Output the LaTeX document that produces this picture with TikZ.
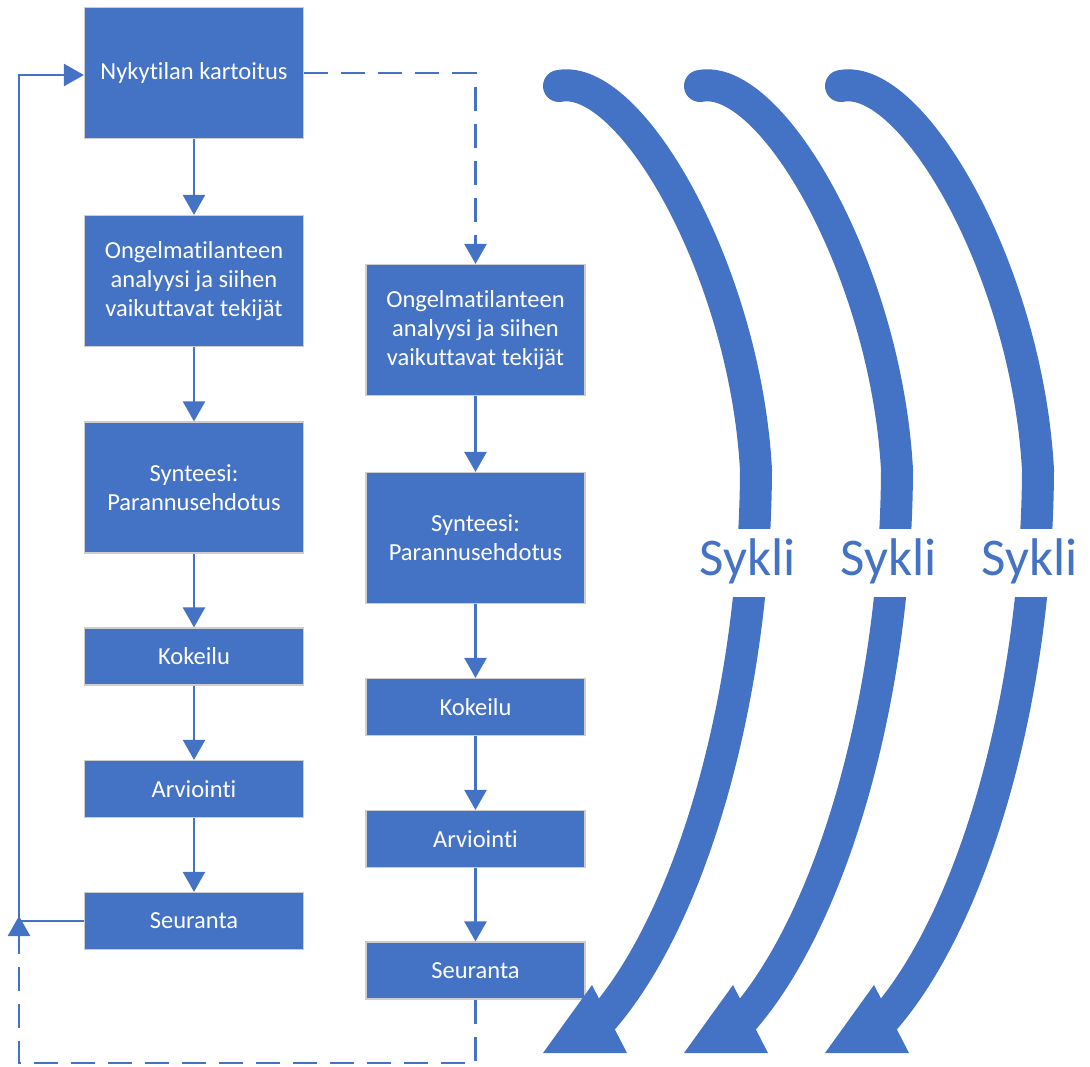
\documentclass[tikz,border=0pt]{standalone}
\usepackage{fontspec}
\setmainfont{Carlito}[Ligatures=NoCommon]
\usetikzlibrary{arrows.meta}
\definecolor{office}{HTML}{4472C4}
\definecolor{rim}{HTML}{CDCDCD}
\begin{document}
\begin{tikzpicture}[x=1pt,y=-1pt,
  stage/.style={draw=rim, line width=1.2pt, fill=office, text=white,
    minimum width=219pt, align=center, inner sep=0pt,
    font=\fontsize{24.5}{29.3}\selectfont},
  tall/.style={stage, minimum height=131pt},
  short/.style={stage, minimum height=57pt},
  flow/.style={draw=office, line width=2.6pt, -{Triangle[width=22pt,length=20pt]}},
  plainflow/.style={draw=office, line width=2.6pt},
  dashflow/.style={flow, dash pattern=on 24pt off 13pt},
  cycband/.style={draw=office, line width=32pt, line cap=round},
  cyclabel/.style={fill=white, text=office, inner sep=0pt, minimum height=68pt,
    text height=34pt, text depth=10pt, font=\fontsize{53}{60}\selectfont}
]
\useasboundingbox (0,0) rectangle (1090,1066);

% left column
\node[tall]  (b1) at (194,73)    {Nykytilan kartoitus};
\node[tall]  (b2) at (194,281)   {Ongelmatilanteen\\analyysi ja siihen\\vaikuttavat tekijät};
\node[tall]  (b3) at (194,487.5) {Synteesi:\\Parannusehdotus};
\node[short] (b4) at (194,656.5) {Kokeilu};
\node[short] (b5) at (194,789)   {Arviointi};
\node[short] (b6) at (194,921)   {Seuranta};

% right column
\node[tall]  (r2) at (475.5,330)   {Ongelmatilanteen\\analyysi ja siihen\\vaikuttavat tekijät};
\node[tall]  (r3) at (475.5,538)   {Synteesi:\\Parannusehdotus};
\node[short] (r4) at (475.5,707)   {Kokeilu};
\node[short] (r5) at (475.5,839)   {Arviointi};
\node[short] (r6) at (475.5,970.5) {Seuranta};

% downward steps
\draw[flow] (b1) -- (b2);
\draw[flow] (b2) -- (b3);
\draw[flow] (b3) -- (b4);
\draw[flow] (b4) -- (b5);
\draw[flow] (b5) -- (b6);
\draw[flow] (r2) -- (r3);
\draw[flow] (r3) -- (r4);
\draw[flow] (r4) -- (r5);
\draw[flow] (r5) -- (r6);

% feedback loop on the left
\coordinate (fbL) at (19,921);
\coordinate (fbT) at (19,75);
\draw[plainflow] (b6.west) -- (fbL);
\draw[flow] (fbL) -- (fbT) -- ([yshift=-2pt]b1.west);

% dashed hand-over to the second round and back
\draw[dashflow] (b1.east) -| (r2.north);
\coordinate (dbL) at (19,1063);
\coordinate (dtip) at (19,916);
\draw[dashflow] (r6.south) |- (dbL) -- (dtip);

% three cycle arrows
\foreach \dx in {0,141,282}{
  \begin{scope}[xshift=\dx pt]
    \draw[cycband] (559,86) .. controls (630,72) and (745,270) .. (756,470)
                            .. controls (755,700) and (690,920) .. (601,1021);
    \fill[office] (543,1053) -- (592,985) -- (627,1053) -- cycle;
  \end{scope}
}
\node[cyclabel] (s1) at (748,563)  {Sykli};
\node[cyclabel] (s2) at (889,563)  {Sykli};
\node[cyclabel] (s3) at (1030,563) {Sykli};
\end{tikzpicture}
\end{document}
